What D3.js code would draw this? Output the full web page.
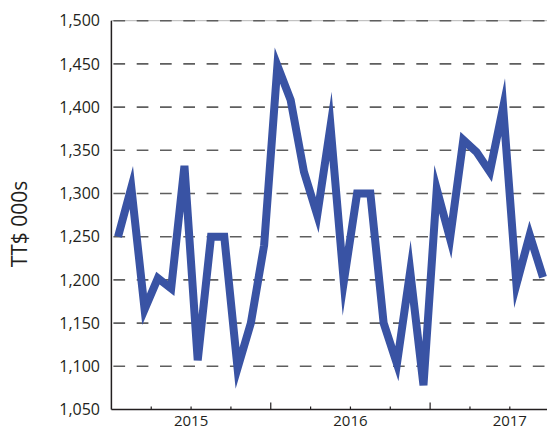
<!DOCTYPE html>
<html>
<head>
<meta charset="utf-8">
<script src="https://cdn.jsdelivr.net/npm/d3@7"></script>
<style>
  body { margin: 0; background: #fff; }
  text { font-family: "Open Sans", sans-serif; fill: #231f20; }
</style>
</head>
<body>
<div id="chart"></div>
<script>
// monthly categories on the x axis (axis runs to the end of 2017)
const months = ["Jan-15","Feb-15","Mar-15","Apr-15","May-15","Jun-15","Jul-15","Aug-15","Sep-15","Oct-15","Nov-15","Dec-15",
  "Jan-16","Feb-16","Mar-16","Apr-16","May-16","Jun-16","Jul-16","Aug-16","Sep-16","Oct-16","Nov-16","Dec-16",
  "Jan-17","Feb-17","Mar-17","Apr-17","May-17","Jun-17","Jul-17","Aug-17","Sep-17","Oct-17","Nov-17","Dec-17"];
const years = ["2015", "2016", "2017"];

// TT$ 000s, Jan 2015 - Sep 2017
const values = [1250, 1307, 1166, 1202, 1190, 1332, 1107, 1250, 1250, 1098, 1150, 1240,
  1448, 1408, 1325, 1275, 1378, 1198, 1300, 1300, 1150, 1103, 1210, 1078,
  1305, 1248, 1362, 1348, 1325, 1400, 1195, 1252, 1203];

const yTicks = [1050, 1100, 1150, 1200, 1250, 1300, 1350, 1400, 1450, 1500];

const width = 547, height = 430;
const margin = {top: 20.7, left: 111.4, bottom: 20.5};
const step = 13.28;

const svg = d3.select("#chart")
    .append("svg")
    .attr("width", width)
    .attr("height", height);

const xScale = d3.scaleBand()
    .domain(months)
    .range([margin.left, margin.left + months.length * step])
    .padding(0);

const yScale = d3.scaleLinear()
    .domain([1050, 1500])
    .range([height - margin.bottom, margin.top]);

// gridlines
svg.append("line")
    .attr("x1", margin.left).attr("x2", width)
    .attr("y1", yScale(1500)).attr("y2", yScale(1500))
    .attr("stroke", "#b5b5b5").attr("stroke-width", 1);

svg.selectAll(".grid")
    .data(yTicks.filter(d => d > 1050))
    .enter()
    .append("line")
        .attr("class", "grid")
        .attr("x1", margin.left + 2)
        .attr("x2", width)
        .attr("y1", d => yScale(d))
        .attr("y2", d => yScale(d))
        .attr("stroke", "#5e5e5e")
        .attr("stroke-width", 1.6)
        .attr("stroke-dasharray", "11.7,11.6");

// y tick labels
svg.selectAll(".ylab")
    .data(yTicks)
    .enter()
    .append("text")
        .attr("class", "ylab")
        .attr("x", 100)
        .attr("y", d => yScale(d))
        .attr("dy", "0.36em")
        .attr("text-anchor", "end")
        .attr("font-size", "16px")
        .text(d => d3.format(",")(d));

// y axis title
svg.append("text")
    .attr("transform", "translate(27,224) rotate(-90)")
    .attr("text-anchor", "middle")
    .attr("font-size", "21px")
    .text("TT$ 000s");

// the line
const line = d3.line()
    .x((d, i) => xScale(months[i]) + xScale.bandwidth() / 2)
    .y(d => yScale(d));

svg.append("path")
    .datum(values)
    .attr("d", line)
    .attr("fill", "none")
    .attr("stroke", "#3953a4")
    .attr("stroke-width", 8)
    .attr("stroke-linejoin", "miter")
    .attr("stroke-miterlimit", 10);

// axes lines
const y0 = yScale(1050);
svg.append("line")
    .attr("x1", margin.left).attr("x2", margin.left)
    .attr("y1", yScale(1500)).attr("y2", y0)
    .attr("stroke", "#231f20").attr("stroke-width", 1.5);
svg.append("line")
    .attr("x1", margin.left).attr("x2", width)
    .attr("y1", y0).attr("y2", y0)
    .attr("stroke", "#231f20").attr("stroke-width", 1.5);

// quarter ticks (longer at year boundaries)
const tickMonths = months.filter((m, i) => i > 0 && i % 3 === 0);
svg.selectAll(".xtick")
    .data(tickMonths)
    .enter()
    .append("line")
        .attr("class", "xtick")
        .attr("x1", d => xScale(d))
        .attr("x2", d => xScale(d))
        .attr("y1", y0)
        .attr("y2", d => months.indexOf(d) % 12 === 0 ? y0 - 7 : y0 - 3)
        .attr("stroke", "#231f20")
        .attr("stroke-width", 1.2);

// year labels centred on each year
svg.selectAll(".xlab")
    .data(years)
    .enter()
    .append("text")
        .attr("class", "xlab")
        .attr("x", (d, i) => xScale(months[i * 12]) + 6 * step)
        .attr("y", y0 + 16.5)
        .attr("text-anchor", "middle")
        .attr("font-size", "15px")
        .text(d => d);
</script>
</body>
</html>
